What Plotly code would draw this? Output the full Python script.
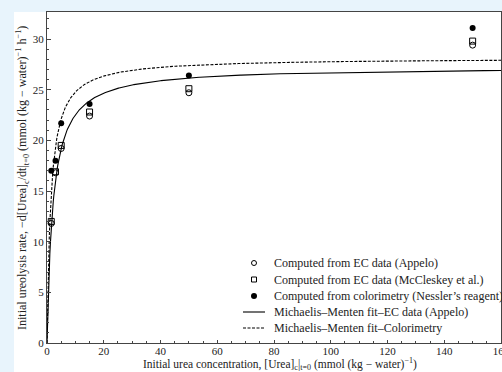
import numpy as np
import plotly.graph_objects as go

# Initial urea concentration (mmol/kg-water)
conc = [1.5, 3, 5, 15, 50, 150]
# Initial ureolysis rates
rate_appelo = [11.8, 16.8, 19.2, 22.4, 24.7, 29.4]
rate_mccleskey = [12.0, 16.9, 19.5, 22.8, 25.1, 29.8]
rate_color = [17.0, 18.0, 21.7, 23.6, 26.4, 31.1]

# Michaelis-Menten fit parameters (Vmax, Km) estimated from the curves
mm_ec = (27.25, 2.1)
mm_col = (28.14, 1.36)

x_ticks = [0, 20, 40, 60, 80, 100, 120, 140, 160]
y_ticks = [0, 5, 10, 15, 20, 25, 30]

legend_labels = [
    "Computed from EC data (Appelo)",
    "Computed from EC data (McCleskey et al.)",
    "Computed from colorimetry (Nessler’s reagent)",
    "Michaelis–Menten fit–EC data (Appelo)",
    "Michaelis–Menten fit–Colorimetry",
]

s = np.linspace(0, 160, 801)
fit_ec = mm_ec[0] * s / (mm_ec[1] + s)
fit_col = mm_col[0] * s / (mm_col[1] + s)

FONT = "Liberation Serif"
TXT = "#222"
# plot area in pixels
L, T, W, H = 47, 12, 454, 331


def px(xp):
    return (xp - L) / W


def py(yp):
    return (T + H - yp) / H


fig = go.Figure()
fig.add_trace(go.Scatter(x=conc, y=rate_appelo, mode="markers", name=legend_labels[0],
                         marker=dict(symbol="circle-open", size=6, color="black", line=dict(width=1))))
fig.add_trace(go.Scatter(x=conc, y=rate_mccleskey, mode="markers", name=legend_labels[1],
                         marker=dict(symbol="square-open", size=6, color="black", line=dict(width=1))))
fig.add_trace(go.Scatter(x=conc, y=rate_color, mode="markers", name=legend_labels[2],
                         marker=dict(symbol="circle", size=6, color="black")))
fig.add_trace(go.Scatter(x=s, y=fit_ec, mode="lines", name=legend_labels[3],
                         line=dict(color="black", width=1.1)))
fig.add_trace(go.Scatter(x=s, y=fit_col, mode="lines", name=legend_labels[4],
                         line=dict(color="black", width=1.1, dash="3px,1.5px")))

axis_common = dict(showline=True, linecolor="#444", linewidth=1, mirror=True,
                   ticks="inside", ticklen=3.5, tickcolor="#444", showgrid=False,
                   zeroline=False, automargin=False,
                   tickfont=dict(family=FONT, size=11, color=TXT))
fig.update_xaxes(range=[0, 160], tickvals=x_ticks, ticklabeloverflow="allow",
                 ticklabelstandoff=-2,
                 minor=dict(ticks="inside", ticklen=2, dtick=5, tickcolor="#444"),
                 **axis_common)
fig.update_yaxes(range=[0, 32.67], tickvals=y_ticks,
                 minor=dict(ticks="inside", ticklen=2, dtick=1, tickcolor="#444"),
                 **axis_common)

# white figure panel over the light-blue page
fig.add_shape(type="rect", xref="paper", yref="paper",
              x0=px(14), x1=px(510), y0=py(380), y1=py(12),
              fillcolor="white", line=dict(width=0), layer="below")

# axis titles
fig.add_annotation(text="Initial urea concentration, [Urea]<sub>c</sub>|<sub>t=0</sub> (mmol (kg − water)<sup>−1</sup>)",
                   xref="paper", yref="paper", x=px(280), y=py(364), xanchor="center", yanchor="middle",
                   showarrow=False, font=dict(family=FONT, size=11.5, color=TXT))
fig.add_annotation(text="Initial ureolysis rate, −d[Urea]<sub>c</sub>/dt|<sub>t=0</sub> (mmol (kg − water)<sup>−1</sup> h<sup>−1</sup>)",
                   xref="paper", yref="paper", x=px(22), y=py(178), xanchor="center", yanchor="middle",
                   textangle=-90, showarrow=False, font=dict(family=FONT, size=12, color=TXT))

# legend (drawn compactly like the reference)
rows = [263, 279.5, 296, 312, 328]
sym_x = 254
for i, lab in enumerate(legend_labels):
    fig.add_annotation(text=lab, xref="paper", yref="paper", x=px(272), y=py(rows[i]),
                       xanchor="left", yanchor="middle", showarrow=False,
                       font=dict(family=FONT, size=12, color=TXT))
fig.add_shape(type="circle", xref="paper", yref="paper", xsizemode="pixel", ysizemode="pixel",
              xanchor=px(sym_x), yanchor=py(rows[0]), x0=-2.5, x1=2.5, y0=-2.5, y1=2.5,
              line=dict(color="black", width=1), fillcolor="white")
fig.add_shape(type="rect", xref="paper", yref="paper", xsizemode="pixel", ysizemode="pixel",
              xanchor=px(sym_x), yanchor=py(rows[1]), x0=-2.5, x1=2.5, y0=-2.5, y1=2.5,
              line=dict(color="black", width=1), fillcolor="white")
fig.add_shape(type="circle", xref="paper", yref="paper", xsizemode="pixel", ysizemode="pixel",
              xanchor=px(sym_x), yanchor=py(rows[2]), x0=-3, x1=3, y0=-3, y1=3,
              line=dict(color="black", width=0), fillcolor="black")
fig.add_shape(type="line", xref="paper", yref="paper", x0=px(243), x1=px(265),
              y0=py(rows[3]), y1=py(rows[3]), line=dict(color="black", width=1.1))
fig.add_shape(type="line", xref="paper", yref="paper", x0=px(243), x1=px(265),
              y0=py(rows[4]), y1=py(rows[4]), line=dict(color="black", width=1.1, dash="3px,1.5px"))

fig.update_layout(
    width=502, height=372,
    margin=dict(l=L, r=502 - L - W, t=T, b=372 - T - H, autoexpand=False),
    paper_bgcolor="#e8f4fc", plot_bgcolor="white",
    font=dict(family=FONT, size=11, color=TXT),
    showlegend=False,
)
fig.write_html("out.html", config={"displayModeBar": False, "responsive": False},
               post_script="document.documentElement.style.overflow='hidden';"
                           "document.body.style.margin='0';document.body.style.overflow='hidden';")
